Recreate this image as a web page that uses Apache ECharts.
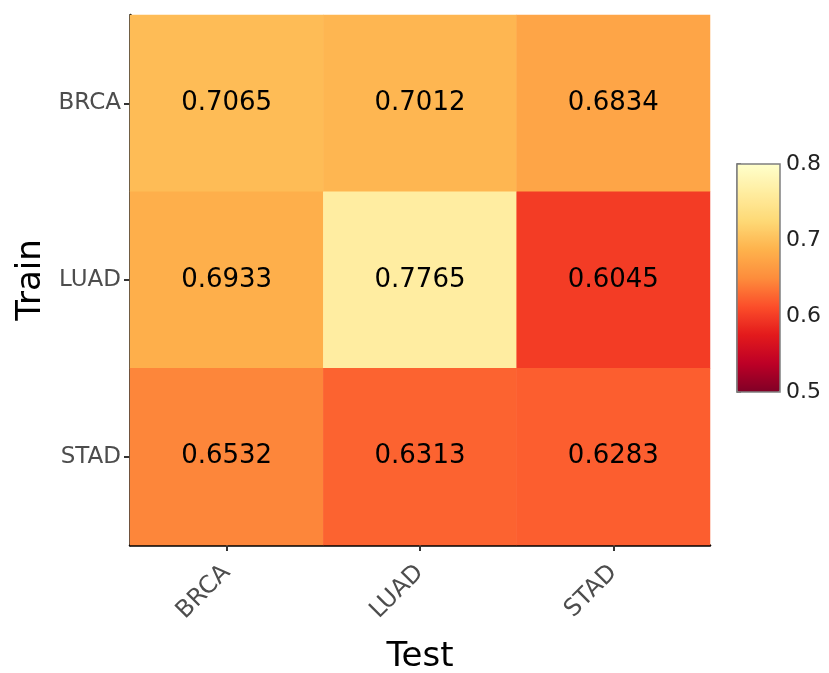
<!DOCTYPE html>
<html>
<head>
<meta charset="utf-8">
<script src="https://cdn.jsdelivr.net/npm/echarts@6/dist/echarts.min.js"></script>
<style>html,body{margin:0;padding:0;background:#fff;}#c{width:829px;height:673px;}</style>
</head>
<body>
<div id="c"></div>
<script>
var testCats = ['BRCA', 'LUAD', 'STAD'];
var trainCats = ['BRCA', 'LUAD', 'STAD'];
var trainBRCA = [0.7065, 0.7012, 0.6834];
var trainLUAD = [0.6933, 0.7765, 0.6045];
var trainSTAD = [0.6532, 0.6313, 0.6283];
var colorMin = 0.5, colorMax = 0.8, colorStep = 0.1;
var cellColorMax = 0.815;
var palette = ['#800026', '#bd0026', '#e31a1c', '#fc4e2a', '#fd8d3c', '#feb24c', '#fed976', '#ffeda0', '#ffffcc'];

var rows = [trainBRCA, trainLUAD, trainSTAD];
var data = [];
rows.forEach(function (r, yi) {
  r.forEach(function (v, xi) { data.push([xi, yi, v]); });
});

var FONT = 'DejaVu Sans';
var chart = echarts.init(document.getElementById('c'), null, { renderer: 'canvas' });
chart.setOption({
  backgroundColor: '#ffffff',
  animation: false,
  textStyle: { fontFamily: FONT },
  grid: [
    { left: 130, top: 15, width: 580, height: 530, containLabel: false, outerBoundsMode: 'none' },
    { left: 737, top: 164, width: 43, height: 228, show: true, z: 10, outerBoundsMode: 'none',
      backgroundColor: 'transparent', borderColor: '#7f7f7f', borderWidth: 1.5 }
  ],
  xAxis: [
    { type: 'category', data: testCats, gridIndex: 0,
      name: 'Test', nameLocation: 'middle', nameGap: 95,
      nameTextStyle: { fontSize: 34, color: '#000', fontFamily: FONT },
      axisLine: { show: true, lineStyle: { color: '#000', width: 2.5 } },
      axisTick: { show: true, alignWithLabel: true, length: 6, lineStyle: { color: '#333', width: 2 } },
      axisLabel: { rotate: 45, fontSize: 24, color: '#4d4d4d', margin: 24, fontFamily: FONT },
      splitLine: { show: false }, splitArea: { show: false } },
    { type: 'value', gridIndex: 1, show: false, min: 0, max: 1 }
  ],
  yAxis: [
    { type: 'category', data: trainCats, inverse: true, gridIndex: 0,
      name: 'Train', nameLocation: 'middle', nameGap: 80,
      nameTextStyle: { fontSize: 34, color: '#000', fontFamily: FONT },
      axisLine: { show: true, lineStyle: { color: '#000', width: 2.5 } },
      axisTick: { show: true, alignWithLabel: true, length: 6, lineStyle: { color: '#333', width: 2 } },
      axisLabel: { fontSize: 23, color: '#4d4d4d', margin: 9, fontFamily: FONT },
      splitLine: { show: false }, splitArea: { show: false } },
    { type: 'value', gridIndex: 1, position: 'right', min: colorMin, max: colorMax, interval: colorStep,
      axisLine: { show: true, lineStyle: { color: '#7f7f7f', width: 1.5 } },
      axisTick: { show: true, inside: false, length: 4, lineStyle: { color: '#555', width: 1.5 } },
      axisLabel: { fontSize: 22, color: '#222', margin: 6, fontFamily: FONT,
        formatter: function (v) { return v.toFixed(1); } },
      splitLine: { show: false } }
  ],
  visualMap: [
    { type: 'continuous', min: colorMin, max: cellColorMax, seriesIndex: 0, show: false,
      inRange: { color: palette } },
    { type: 'continuous', min: colorMin, max: colorMax, seriesIndex: 1,
      calculable: false, orient: 'vertical', left: 737, top: 164,
      itemWidth: 43, itemHeight: 228, padding: 0, text: null, showLabel: false,
      inRange: { color: palette } }
  ],
  series: [{
    type: 'heatmap', xAxisIndex: 0, yAxisIndex: 0, data: data,
    itemStyle: { borderWidth: 0 },
    label: { show: true, fontSize: 26, color: '#000', fontFamily: FONT,
      formatter: function (p) { return p.value[2].toFixed(4); } },
    emphasis: { disabled: true }
  }, {
    type: 'line', xAxisIndex: 1, yAxisIndex: 1, data: [], silent: true
  }]
});
</script>
</body>
</html>
